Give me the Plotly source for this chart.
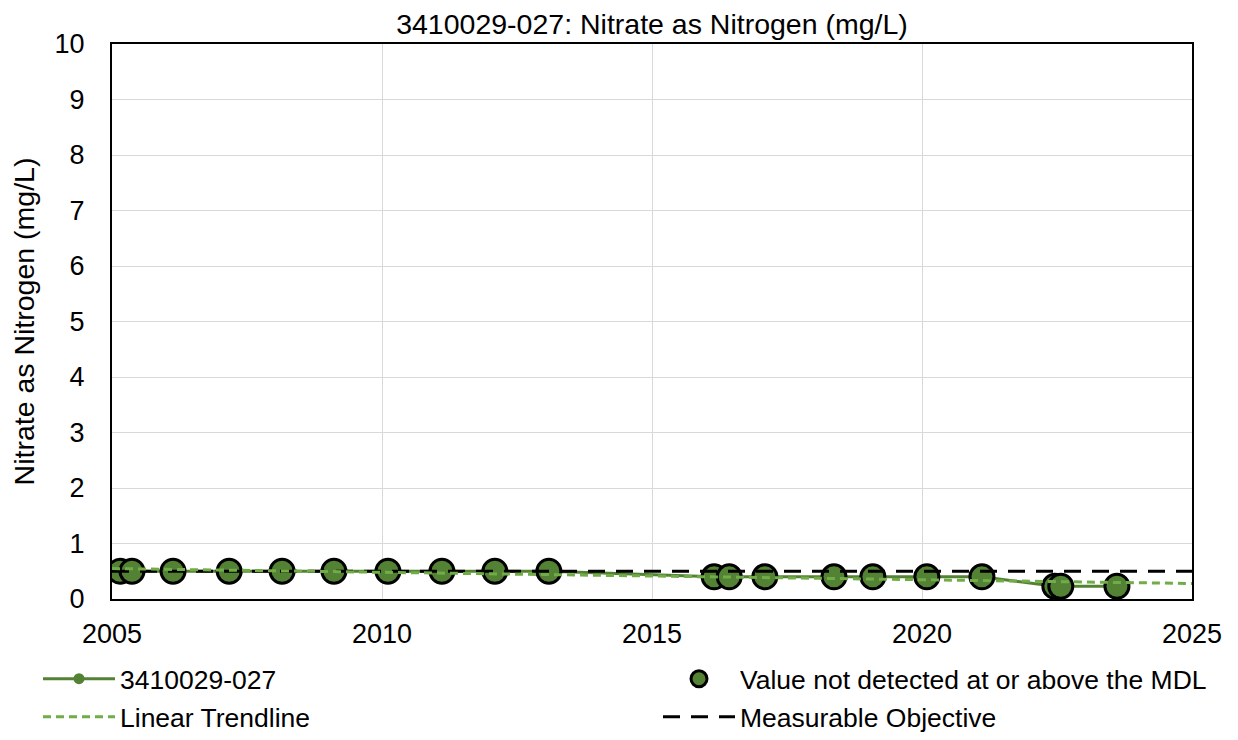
import numpy as np
import plotly.graph_objects as go

# ---- data ----
sample_dates = [2005.15, 2005.37, 2006.13, 2007.17, 2008.15, 2009.11, 2010.11, 2011.11,
                2012.09, 2013.09, 2016.15, 2016.43, 2017.09, 2018.37, 2019.09, 2020.09,
                2021.11, 2022.46, 2022.57, 2023.61]
nitrate_values = [0.5, 0.5, 0.5, 0.5, 0.5, 0.5, 0.5, 0.5, 0.5, 0.5,
                  0.4, 0.4, 0.4, 0.4, 0.4, 0.4, 0.4, 0.23, 0.23, 0.23]
# all samples flagged as not detected at or above the MDL
nd_dates = sample_dates
nd_values = nitrate_values
objective_x = [2005, 2025]
objective_value = 0.5
x_ticks = [2005, 2010, 2015, 2020, 2025]
y_ticks = list(range(0, 11))

# linear trendline fitted to the samples
slope, intercept = np.polyfit(sample_dates, nitrate_values, 1)
trend_x = [2005, 2025]
trend_y = [slope * x + intercept for x in trend_x]

FONT = "Liberation Sans, Arial, sans-serif"
TICK_FS = 27
LEG_FS = 26.5
TITLE_FS = 28.5
DARK_GREEN = "#548235"
LIGHT_GREEN = "#70AD47"

# the page body adds an 8px offset, so the figure is 8px smaller than the window
W, H = 1230, 732

fig = go.Figure()
fig.add_trace(go.Scatter(
    x=sample_dates, y=nitrate_values, mode="lines+markers", name="3410029-027",
    line=dict(color=DARK_GREEN, width=3), marker=dict(color=DARK_GREEN, size=11),
    legend="legend"))
fig.add_trace(go.Scatter(
    x=nd_dates, y=nd_values, mode="markers", name="Value not detected at or above the MDL",
    marker=dict(color=DARK_GREEN, size=24, line=dict(color="black", width=3)),
    legend="legend2"))
fig.add_trace(go.Scatter(
    x=objective_x, y=[objective_value] * len(objective_x), mode="lines",
    name="Measurable Objective", line=dict(color="black", width=3, dash="17px,11px"),
    legend="legend4"))
fig.add_trace(go.Scatter(
    x=trend_x, y=trend_y, mode="lines", name="Linear Trendline",
    line=dict(color=LIGHT_GREEN, width=3, dash="8px,5px"),
    legend="legend3"))

legend_common = dict(
    orientation="h", xref="container", yref="container", xanchor="left", yanchor="top",
    itemwidth=72, font=dict(family=FONT, size=LEG_FS, color="black"),
    bgcolor="rgba(0,0,0,0)", visible=True)

row1_top = 1 - 647 / H
row2_top = 1 - 685 / H
col1_x = 30 / W
col2_x = 650 / W

fig.update_layout(
    width=W, height=H, showlegend=True,
    margin=dict(l=104, r=46, t=36, b=141, autoexpand=False),
    paper_bgcolor="white", plot_bgcolor="white",
    font=dict(family=FONT, size=TICK_FS, color="black"),
    title=dict(text="3410029-027: Nitrate as Nitrogen (mg/L)", x=0.5, xref="paper",
               xanchor="center", y=1 - 16 / H, yanchor="middle",
               font=dict(family=FONT, size=TITLE_FS, color="black")),
    legend=dict(x=col1_x, y=row1_top, **legend_common),
    legend2=dict(x=col2_x, y=row1_top, **legend_common),
    legend3=dict(x=col1_x, y=row2_top, **legend_common),
    legend4=dict(x=col2_x, y=row2_top, **legend_common),
    xaxis=dict(range=[2005, 2025], tickvals=x_ticks, ticktext=[str(t) for t in x_ticks],
               showgrid=True, gridcolor="#d9d9d9", gridwidth=1,
               showline=True, linecolor="black", linewidth=2, mirror=True,
               zeroline=False, ticks="", ticklabelstandoff=10,
               tickfont=dict(family=FONT, size=TICK_FS, color="black")),
    yaxis=dict(range=[0, 10], tickvals=y_ticks, showgrid=True, gridcolor="#d9d9d9",
               gridwidth=1, showline=True, linecolor="black", linewidth=2, mirror=True,
               zeroline=False, ticks="", ticklabelstandoff=20,
               tickfont=dict(family=FONT, size=TICK_FS, color="black"),
               title=dict(text="Nitrate as Nitrogen (mg/L)", standoff=16,
                          font=dict(family=FONT, size=TITLE_FS, color="black"))),
)

fig.write_html("out.html")
